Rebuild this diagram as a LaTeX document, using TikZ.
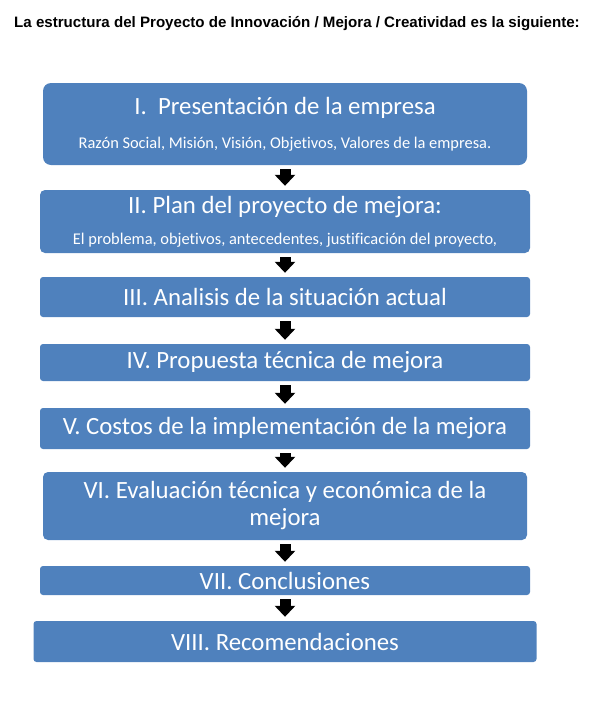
\documentclass[tikz,border=0pt]{standalone}
\usepackage{fontspec}
\setmainfont{Carlito}[Ligatures=NoCommon]
\newfontfamily\arialfont{Liberation Sans}
\usetikzlibrary{arrows.meta}
\definecolor{cajaazul}{HTML}{4F81BD}
\begin{document}
\begin{tikzpicture}[x=1pt,y=-1pt,
  caja/.style={fill=cajaazul,text=white,inner sep=0pt,align=center,rounded corners=3pt,font=\fontsize{24.8}{29}\selectfont},
  flecha/.style={line width=11pt,-{Triangle[width=20pt,length=11pt]},shorten <=4pt,shorten >=4pt}]
\useasboundingbox (0,0) rectangle (604,710);
\node[anchor=base west,inner sep=0pt,font=\arialfont\bfseries\fontsize{15.1}{17}\selectfont] (titulo) at (14,27) {La estructura del Proyecto de Innovación / Mejora / Creatividad es la siguiente:};
% cajas
\node[caja,minimum width=484pt,minimum height=82pt,rounded corners=8pt] (b1) at (285,124) {I.\ \ Presentación de la empresa\\[5pt]{\fontsize{16.4}{19}\selectfont Razón Social, Misión, Visión, Objetivos, Valores de la empresa.}};
\node[caja,minimum width=490pt,minimum height=63pt,rounded corners=5pt] (b2) at (285,221.5) {II. Plan del proyecto de mejora:\\[2pt]{\fontsize{16.4}{19}\selectfont El problema, objetivos, antecedentes, justificación del proyecto,}};
\node[caja,minimum width=490pt,minimum height=40pt] (b3) at (285,297) {III. Analisis de la situación actual};
\node[caja,minimum width=490pt,minimum height=37pt] (b4) at (285,362.5) {IV. Propuesta técnica de mejora};
\node[caja,minimum width=490pt,minimum height=41pt] (b5) at (285,428.5) {V. Costos de la implementación de la mejora};
\node[caja,minimum width=484pt,minimum height=68pt,rounded corners=5pt] (b6) at (285,506) {VI. Evaluación técnica y económica de la\\[-2pt]mejora};
\node[caja,minimum width=490pt,minimum height=29pt] (b7) at (285,580.5) {VII. Conclusiones};
\node[caja,minimum width=503pt,minimum height=41pt] (b8) at (285,641.5) {VIII. Recomendaciones};
% flechas
\foreach \a/\b in {b1/b2,b2/b3,b3/b4,b4/b5,b5/b6,b6/b7,b7/b8}
  \draw[flecha] (\a) -- (\b);
\end{tikzpicture}
\end{document}
